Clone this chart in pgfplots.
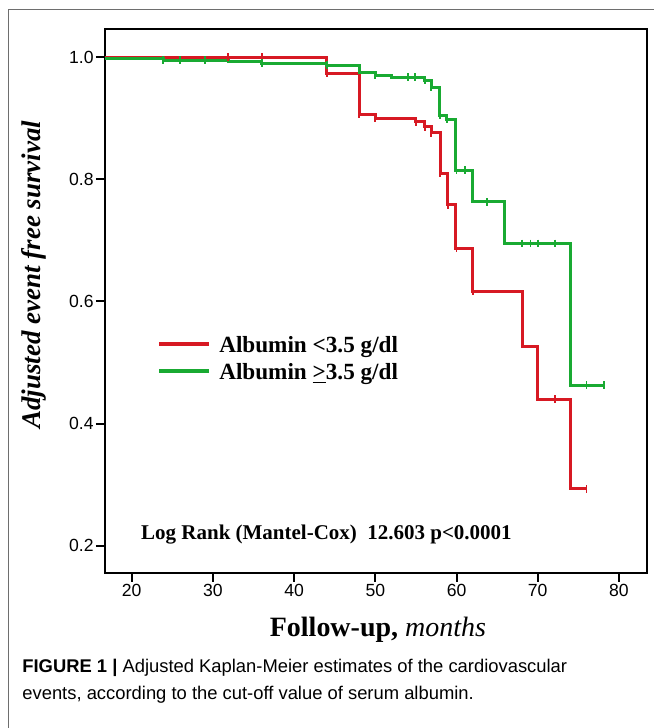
\documentclass[border=0pt]{standalone}
\usepackage{fontspec}
\setmainfont{Liberation Serif}
\setsansfont{Liberation Sans}
\usepackage{pgfplots}
\pgfplotsset{compat=1.18}
\definecolor{kmred}{RGB}{215,25,35}
\definecolor{kmgreen}{RGB}{25,170,50}
\definecolor{framegray}{RGB}{110,110,110}

\begin{document}
\begin{tikzpicture}
% page 654x728 px, 1 px = 0.5 pt
\path (0,0) rectangle (327pt,364pt);
\draw[framegray, line width=0.5pt] (4.5pt,0) -- (4.5pt,359pt) -- (327pt,359pt);

\begin{axis}[
  at={(52.5pt,77.5pt)}, anchor=south west,
  scale only axis,
  width=271pt, height=272pt,
  xmin=16.7, xmax=83.4,
  ymin=0.156, ymax=1.046,
  xtick={20,30,...,80},
  ytick={0.2,0.4,0.6,0.8,1.0},
  xtick pos=bottom, ytick pos=left,
  tick align=outside,
  major tick length=4.5pt,
  axis line style={line width=1pt},
  every tick/.style={black, line width=1pt},
  tick label style={font=\sffamily\fontsize{8.8}{10}\selectfont, inner sep=1pt},
  /pgf/number format/assume math mode=true,
  yticklabel style={/pgf/number format/.cd, fixed, fixed zerofill, precision=1},
  xlabel={\textbf{Follow-up,} \textit{months}},
  xlabel style={font=\fontsize{14}{16}\selectfont, at={(axis description cs:0.504,-0.118)}, anchor=base},
  ylabel={\textbf{\textit{Adjusted event free survival}}},
  ylabel style={font=\fontsize{13.5}{16}\selectfont, at={(axis description cs:-0.131,0.548)}, anchor=center},
  legend style={at={(axis description cs:0.096,0.439)}, anchor=north west,
    draw=none, fill=none, inner sep=0pt, column sep=4pt,
    font=\bfseries\fontsize{11.6}{13}\selectfont,
    nodes={inner sep=0pt, text height=9pt, text depth=4.5pt}},
  legend cell align=left,
  legend image code/.code={\draw[#1, line width=2pt] (0pt,2pt) -- (25pt,2pt);},
]
% Albumin < 3.5 g/dl
\addplot[kmred, line width=1.5pt, const plot, mark=none] coordinates {
  (16.7,1.0) (44,0.973) (48,0.906) (50,0.900) (55,0.894) (56.1,0.886)
  (56.9,0.876) (58,0.810) (58.9,0.758) (59.9,0.687) (62,0.616)
  (68.1,0.527) (70,0.440) (74,0.293) (76,0.293)
};
\addlegendentry{Albumin <3.5 g/dl}
% Albumin >= 3.5 g/dl
\addplot[kmgreen, line width=1.5pt, const plot, mark=none] coordinates {
  (16.7,0.998) (23.9,0.995) (31.9,0.992) (36,0.990) (44,0.987)
  (48.1,0.975) (50,0.970) (52,0.967) (56.1,0.962) (56.9,0.950)
  (57.9,0.905) (58.8,0.898) (59.9,0.815) (62,0.763) (65.9,0.695)
  (74,0.463) (78.2,0.463)
};
\addlegendentry{Albumin \underline{>}3.5 g/dl}
% censored observations
\addplot[kmred, only marks, mark=|, mark size=1.9pt, line width=0.9pt, forget plot] coordinates {
  (31.9,1.0) (36,1.0) (44,0.973) (48,0.906) (50,0.900) (55,0.894)
  (56.1,0.886) (56.9,0.876) (58,0.810) (58.9,0.758) (60,0.687)
  (62,0.616) (72.1,0.440) (76,0.293)
};
\addplot[kmgreen, only marks, mark=|, mark size=1.9pt, line width=0.9pt, forget plot] coordinates {
  (23.9,0.995) (25.9,0.995) (29,0.995) (36,0.990) (44,0.987)
  (50,0.970) (54,0.967) (54.9,0.967) (56.1,0.962) (56.9,0.950)
  (58,0.905) (58.8,0.898) (60,0.815) (61,0.815) (63.8,0.763)
  (68.1,0.695) (69.1,0.695) (70,0.695) (72.1,0.695) (76,0.463) (78.2,0.463)
};
\node[anchor=base west, font=\bfseries\fontsize{10.5}{12}\selectfont]
  at (axis description cs:0.054,0.0607) {Log Rank (Mantel-Cox)\ \ 12.603 p<0.0001};
\end{axis}

\node[anchor=base west, font=\sffamily\fontsize{9.2}{11}\selectfont, inner sep=0pt]
  at (11pt,27.5pt) {\textbf{FIGURE 1 |} Adjusted Kaplan-Meier estimates of the cardiovascular};
\node[anchor=base west, font=\sffamily\fontsize{9.2}{11}\selectfont, inner sep=0pt]
  at (11pt,14pt) {events, according to the cut-off value of serum albumin.};
\end{tikzpicture}
\end{document}
